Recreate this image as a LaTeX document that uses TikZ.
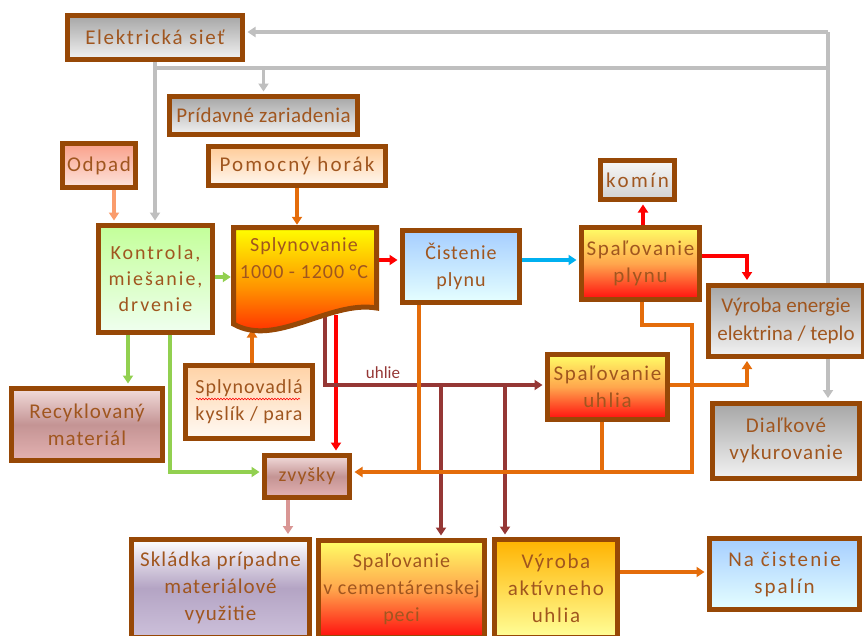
\documentclass[tikz,border=0pt]{standalone}
\usepackage{fontspec}
\usetikzlibrary{arrows.meta,backgrounds,decorations.pathmorphing}
% one Carlito family per letter spacing used in the boxes
\newfontfamily\fsPlain{Carlito}
\newfontfamily\fsTwo[LetterSpace=2]{Carlito}
\newfontfamily\fsFive[LetterSpace=5]{Carlito}
\newfontfamily\fsEight[LetterSpace=8]{Carlito}
\newfontfamily\fsTen[LetterSpace=10]{Carlito}
\newfontfamily\fsTwelve[LetterSpace=12]{Carlito}
\definecolor{brd}{HTML}{974806}
\definecolor{txt}{HTML}{A0561F}
\definecolor{lgray}{HTML}{BFBFBF}
\definecolor{lorange}{HTML}{E46C0A}
\definecolor{lsalmon}{HTML}{FA9C6C}
\definecolor{lgreen}{HTML}{92D050}
\definecolor{lred}{HTML}{FF0000}
\definecolor{lbrown}{HTML}{953735}
\definecolor{lcyan}{HTML}{00B0F0}
\definecolor{lpink}{HTML}{D99694}
\tikzset{
  box/.style={draw=brd, line width=5pt, inner sep=0pt, align=center, text=txt,
    font=\fsFive\fontsize{20}{27}\selectfont},
  big/.style={font=#1\fontsize{21}{27}\selectfont},
  grayfill/.style={top color=black!35, bottom color=black!5},
  firefill/.style={top color=yellow!60, bottom color=red!95, middle color=orange!70},
  bluefill/.style={top color=cyan!45!blue!35!white, bottom color=cyan!10!white},
  mauvefill/.style={top color={rgb,255:red,242;green,220;blue,219}, bottom color={rgb,255:red,228;green,178;blue,178}, middle color={rgb,255:red,196;green,148;blue,148}},
  conn/.style={line width=3.2pt, shorten >=2.5pt,
    -{Triangle[width=10pt,length=8pt]}},
  plainline/.style={line width=3.2pt},
}
\begin{document}
\begin{tikzpicture}[x=1pt,y=-1pt]
\useasboundingbox (0,0) rectangle (864,635);

% ---- boxes ----
\node[box, big=\fsEight, grayfill, minimum width=175pt, minimum height=44pt] (elek) at (155,37.5) {Elektrická sieť};
\node[box, big=\fsTwo, grayfill, minimum width=188pt, minimum height=38pt] (prid) at (263.5,115.5) {Prídavné zariadenia};
\node[box, big=\fsEight, top color={rgb,255:red,249;green,160;blue,138}, bottom color={rgb,255:red,253;green,228;blue,220}, minimum width=73pt, minimum height=44pt] (odpad) at (99,165.5) {Odpad};
\node[box, big=\fsTen, top color=orange!40!white, bottom color=orange!6!white, minimum width=177pt, minimum height=39pt] (pomoc) at (297,166) {Pomocný horák};
\node[box, big=\fsTwelve, top color=black!3, bottom color=black!18, minimum width=74pt, minimum height=39pt] (komin) at (637.5,180) {komín};
\node[box, font=\fsTen\fontsize{20}{26}\selectfont, top color=green!45!lime!40!white, bottom color=green!6!white, minimum width=114pt, minimum height=107pt] (kontrola) at (155.5,279) {Kontrola,\\miešanie,\\drvenie};

% gasification vessel with a wavy lower edge
\path[draw=brd, line width=5pt, top color=yellow, bottom color=red!90!orange, middle color=orange!85!yellow]
  (233.5,227.5) -- (376.5,227.5) -- (376.5,308)
  .. controls (330,300) and (275,348) .. (233.5,324) -- cycle;
\node[inner sep=0pt, minimum width=143pt, minimum height=82.5pt] (splyn) at (305,268.75) {};
\node[text=txt, align=center, font=\fsFive\fontsize{20}{27}\selectfont] (splyntxt) at (304,258) {Splynovanie\\1000 - 1200 °C};

\node[box, bluefill, minimum width=117pt, minimum height=72pt] (cist) at (461,266.5) {Čistenie\\plynu};
\node[box, big=\fsEight, firefill, minimum width=118pt, minimum height=72pt] (spplyn) at (640.5,263.5) {Spaľovanie\\plynu};
\node[box, grayfill, font=\fsPlain\fontsize{21}{28}\selectfont, minimum width=155pt, minimum height=71pt] (vyroba) at (786,320.5) {Výroba energie\\elektrina / teplo};
\node[box, big=\fsEight, firefill, minimum width=120pt, minimum height=65pt] (spuhl) at (607.5,387) {Spaľovanie\\uhlia};
\node[box, top color=orange!35!white, bottom color=orange!4!white, minimum width=127pt, minimum height=73pt] (splynovadla) at (249,402) {Splynovadlá\\kyslík / para};
\node[box, big=\fsFive, mauvefill, minimum width=151pt, minimum height=72pt] (recykl) at (87,424.5) {Recyklovaný\\materiál};
\node[box, big=\fsFive, grayfill, minimum width=147pt, minimum height=75pt] (dialk) at (786,440.5) {Diaľkové\\vykurovanie};
\node[box, mauvefill, minimum width=85pt, minimum height=42pt] (zvysky) at (307,476.5) {zvyšky};
\node[box, big=\fsFive, top color=white, bottom color={rgb,255:red,204;green,192;blue,218}, middle color={rgb,255:red,180;green,164;blue,196}, minimum width=178pt, minimum height=98pt] (skladka) at (220.5,588) {Skládka prípadne\\materiálové\\využitie};
\node[box, firefill, minimum width=166pt, minimum height=97pt] (cement) at (401.5,589) {Spaľovanie\\v cementárenskej\\peci};
\node[box, big=\fsEight, top color=orange!60!yellow, bottom color=yellow!40!white, minimum width=123pt, minimum height=98pt] (aktiv) at (556,588.5) {Výroba\\aktívneho\\uhlia};
\node[box, big=\fsTen, bluefill, minimum width=150pt, minimum height=71pt] (nacist) at (784.5,574) {Na čistenie\\spalín};

% spelling-check squiggle under the first word
\draw[red, line width=0.6pt, decorate, decoration={snake, amplitude=0.8pt, segment length=3pt}]
  (196,399) -- (300,399);

\node[text=lbrown, font=\fsPlain\fontsize{17}{20}\selectfont, inner sep=0pt] (lblU) at (383,373) {uhlie};

% ---- connectors ----
\begin{scope}[on background layer]
  % power grid
  \coordinate (gTop) at (828,32);
  \coordinate (gMid) at (828,68);
  \draw[conn, lgray] (elek.south) -- (elek.south |- kontrola.north);
  \draw[plainline, lgray] (elek.south |- gMid) -- (gMid) -- (gTop);
  \draw[conn, lgray] (gTop) -- (gTop -| elek.east);
  \draw[conn, lgray] (prid.north |- gMid) -- (prid.north);
  \draw[conn, lgray] (gTop) -- (gTop |- dialk.north);

  % inputs
  \draw[conn, lsalmon] ([xshift=15pt]odpad.south) -- ([xshift=15pt]odpad.south |- kontrola.north);
  \draw[conn, lorange] (pomoc.south) -- (pomoc.south |- splyn.north);

  % preparation
  \coordinate (yK) at (0,277);
  \draw[conn, lgreen] (kontrola.east |- yK) -- (splyn.west |- yK);
  \draw[conn, lgreen] ([xshift=-27.5pt]kontrola.south) -- ([xshift=-27.5pt]kontrola.south |- recykl.north);
  \coordinate (kz) at (170,472);
  \draw[conn, lgreen] (kz |- kontrola.south) -- (kz) -- (kz -| zvysky.west);

  % gasifying agents
  \coordinate (sb) at (252,327);
  \draw[conn, lorange] (sb |- splynovadla.north) -- (sb);

  % gas path
  \coordinate (yR) at (0,260);
  \draw[conn, lred] (splyn.east |- yR) -- (cist.west |- yR);
  \coordinate (rd) at (336,315);
  \draw[conn, lred] (rd) -- (rd |- zvysky.north);
  \draw[conn, lcyan] (cist.east |- yR) -- (spplyn.west |- yR);
  \coordinate (km) at (643,215);
  \draw[conn, lred] (km |- spplyn.north) -- (km |- komin.south);
  \coordinate (rv) at (747,256);
  \draw[conn, lred] (spplyn.east |- rv) -- (rv) -- (rv |- vyroba.north);

  % char path
  \coordinate (bu) at (325,385);
  \draw[conn, lbrown] (bu |- splyn.south) -- (bu) -- (bu -| spuhl.west);
  \coordinate (b1) at (441,385);
  \draw[conn, lbrown] (b1) -- (b1 |- cement.north);
  \coordinate (b2) at (505,385);
  \draw[conn, lbrown] (b2) -- (b2 |- aktiv.north);

  % residues
  \coordinate (o1) at (642,325);
  \coordinate (o2) at (692,325);
  \coordinate (o3) at (692,472);
  \draw[conn, lorange] (o1 |- spplyn.south) -- (o1) -- (o2) -- (o3) -- (o3 -| zvysky.east);
  \coordinate (o4) at (419,472);
  \draw[plainline, lorange] (o4 |- cist.south) -- (o4);
  \coordinate (o5) at (602,472);
  \draw[plainline, lorange] (o5 |- spuhl.south) -- (o5);

  % energy and flue gas
  \coordinate (ov) at (747,385);
  \draw[conn, lorange] (spuhl.east |- ov) -- (ov) -- (ov |- vyroba.south);
  \coordinate (yA) at (0,572);
  \draw[conn, lorange] (aktiv.east |- yA) -- (nacist.west |- yA);
  \coordinate (zs) at (288,0);
  \draw[conn, lpink] (zs |- zvysky.south) -- (zs |- skladka.north);
\end{scope}
\end{tikzpicture}
\end{document}
